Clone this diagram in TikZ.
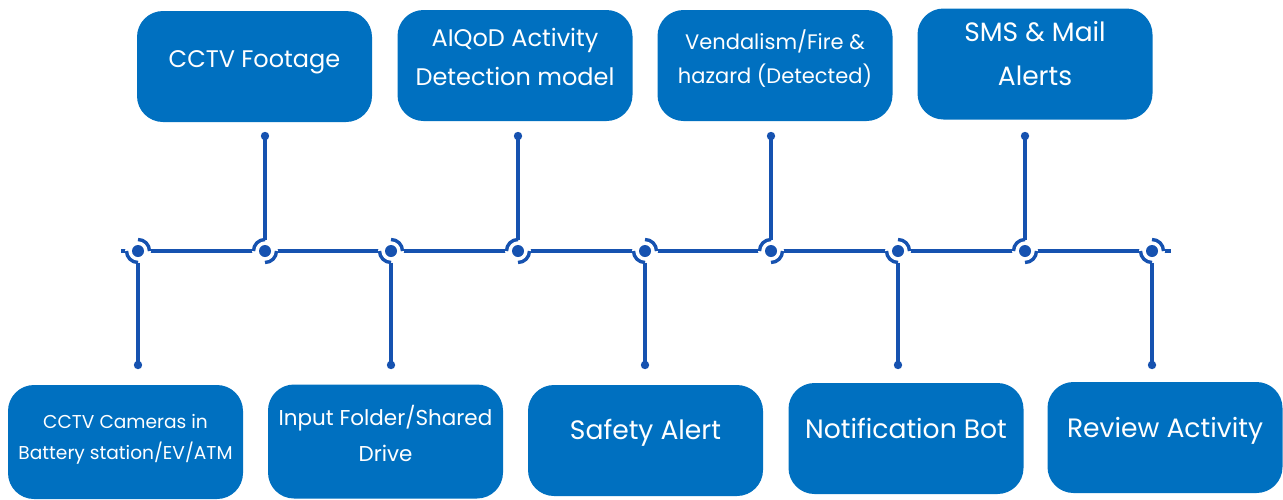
\documentclass[tikz,border=0pt]{standalone}
\usepackage{fontspec}
\setmainfont{Poppins}
\definecolor{boxblue}{RGB}{0,112,192}
\definecolor{lineblue}{RGB}{22,82,176}
\begin{document}
\begin{tikzpicture}[x=1pt,y=-1pt,
    box/.style={rounded corners=26pt,fill=boxblue,minimum width=235pt,minimum height=111pt,inner sep=0pt},
    txt/.style={text=white,align=center,inner sep=0pt},
    tl/.style={draw=lineblue,line width=3.4pt},
    dot/.style={circle,fill=lineblue,inner sep=0pt,minimum size=12pt}]
\useasboundingbox (0,0) rectangle (1283,499);
% boxes on top
\node[box] (footage) at (254.5,66.5) {};
\node[box] (aiqod) at (515,65.5) {};
\node[box] (vandal) at (775,65.5) {};
\node[box] (sms) at (1035,64) {};
% boxes at the bottom
\node[box,minimum height=114pt] (cams) at (125.5,442) {};
\node[box,minimum height=114pt] (input) at (385.5,441.5) {};
\node[box] (safety) at (645.5,440.5) {};
\node[box] (bot) at (906,438.5) {};
\node[box] (review) at (1165,437.5) {};
% texts
\node[txt,font=\fontsize{24}{36}\selectfont] (t-footage) at (254.5,62) {CCTV Footage};
\node[txt,font=\fontsize{24}{39}\selectfont] (t-aiqod) at (515,57) {AIQoD Activity\\Detection model};
\node[txt,font=\fontsize{21}{34}\selectfont] (t-vandal) at (775,58.5) {Vendalism/Fire \&\\hazard (Detected)};
\node[txt,font=\fontsize{26.5}{44}\selectfont] (t-sms) at (1035,53.5) {SMS \& Mail\\Alerts};
\node[txt,font=\fontsize{18.6}{31}\selectfont] (t-cams) at (125.5,439) {CCTV Cameras in\\Battery station/EV/ATM};
\node[txt,font=\fontsize{21.5}{36}\selectfont] (t-input) at (385.5,433) {Input Folder/Shared\\Drive};
\node[txt,font=\fontsize{26.6}{36}\selectfont] (t-safety) at (645.5,433) {Safety Alert};
\node[txt,font=\fontsize{26.6}{36}\selectfont] (t-bot) at (906,428) {Notification Bot};
\node[txt,font=\fontsize{26.6}{36}\selectfont] (t-review) at (1165,431) {Review Activity};
% time line
\coordinate (tl-start) at (121,251);
\coordinate (tl-end) at (1171,251);
\draw[tl] (tl-start) -- (tl-end);
% dots going down
\foreach \n/\x in {1/138,3/391,5/645,7/898,9/1152} {
    \fill[white] (\x,251) circle (13);
    \node[dot] (d\n) at (\x,251) {};
    \draw[tl] (d\n.center) ++(-90:11.5) arc[start angle=-90,end angle=0,radius=11.5];
    \draw[tl] (d\n.center) ++(90:11.5) arc[start angle=90,end angle=180,radius=11.5];
    \coordinate (e\n) at (\x,365);
    \draw[tl] ([yshift=-11.5pt]d\n.center) -- (e\n);
    \fill[lineblue] (e\n) circle (4.2);
}
% dots going up
\foreach \n/\x in {2/265,4/518,6/771,8/1025} {
    \fill[white] (\x,251) circle (13);
    \node[dot] (d\n) at (\x,251) {};
    \draw[tl] (d\n.center) ++(180:11.5) arc[start angle=180,end angle=270,radius=11.5];
    \draw[tl] (d\n.center) ++(0:11.5) arc[start angle=0,end angle=90,radius=11.5];
    \coordinate (e\n) at (\x,136);
    \draw[tl] ([yshift=11.5pt]d\n.center) -- (e\n);
    \fill[lineblue] (e\n) circle (4.2);
}
\end{tikzpicture}
\end{document}
